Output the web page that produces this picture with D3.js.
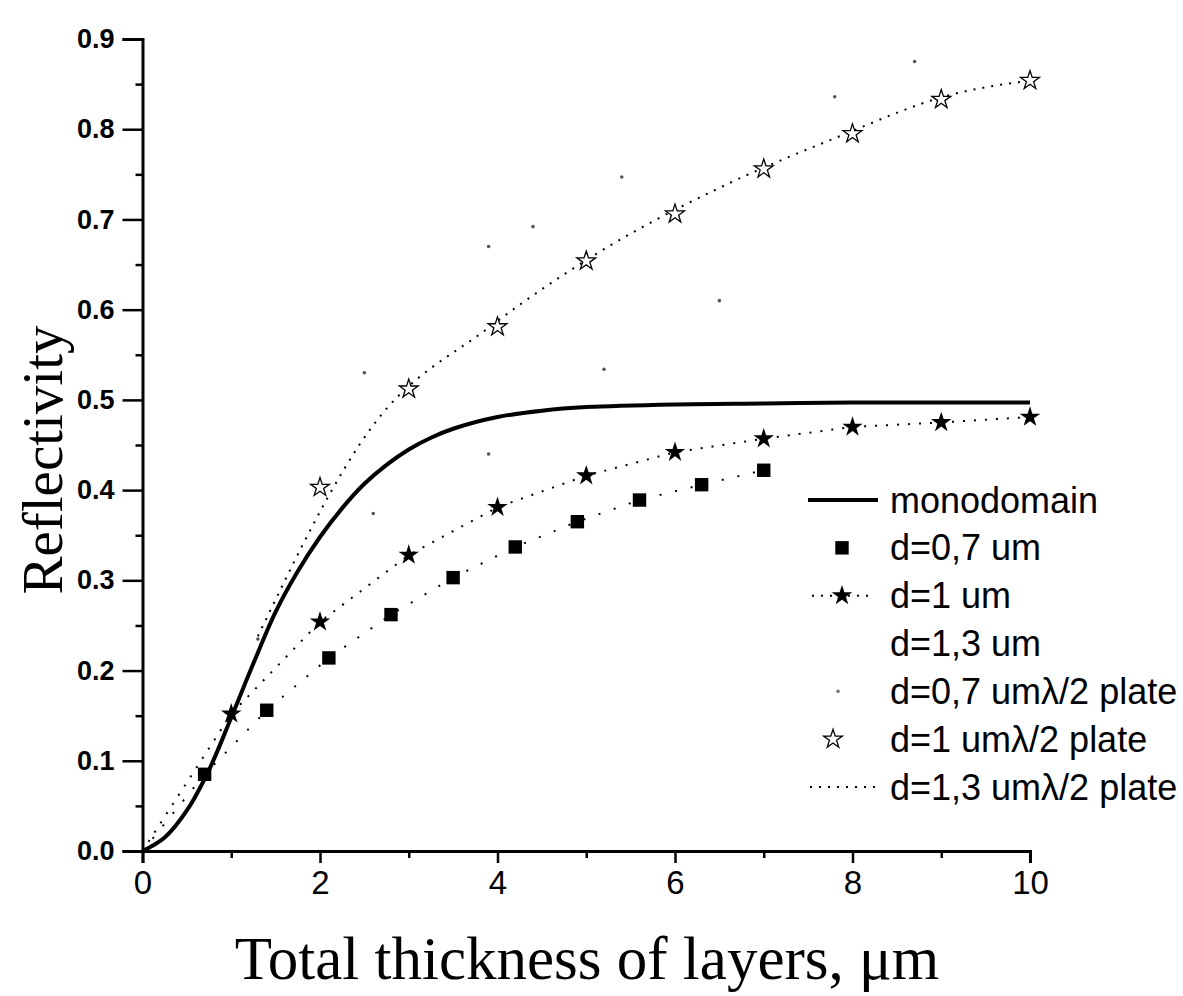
<!DOCTYPE html>
<html>
<head>
<meta charset="utf-8">
<script src="https://cdn.jsdelivr.net/npm/d3@7"></script>
<style>
  body { margin: 0; background: #fff; }
  svg { display: block; }
</style>
</head>
<body>
<div id="chart"></div>
<script>
!(function(){
    "use strict"

    var width = 1183;
    var height = 996;

    // monodomain (solid curve)
    var monoX = [0, 0.25, 0.5, 0.75, 1, 1.25, 1.5, 1.75, 2, 2.25, 2.5, 2.75, 3, 3.25, 3.5, 4, 4.5, 5, 6, 7, 8, 9, 10];
    var monoY = [0, 0.015, 0.045, 0.09, 0.148, 0.208, 0.265, 0.31, 0.348, 0.38, 0.407, 0.428, 0.445, 0.458, 0.468, 0.481, 0.488, 0.492, 0.495, 0.496, 0.497, 0.497, 0.497];

    // d=0,7 um (filled squares)
    var d07X = [0.7, 1.4, 2.1, 2.8, 3.5, 4.2, 4.9, 5.6, 6.3, 7.0];
    var d07Y = [0.085, 0.156, 0.214, 0.262, 0.303, 0.337, 0.365, 0.389, 0.406, 0.422];

    // d=1 um (filled stars)
    var d1X = [1, 2, 3, 4, 5, 6, 7, 8, 9, 10];
    var d1Y = [0.152, 0.254, 0.328, 0.381, 0.416, 0.442, 0.457, 0.47, 0.475, 0.481];

    // d=1,3 um (barely visible light marks)
    var d13X = [1.3, 2.6, 3.9, 5.2, 6.5];
    var d13Y = [0.235, 0.374, 0.44, 0.534, 0.61];

    // d=0,7 um lambda/2 plate (faint grey marks)
    var d07pX = [2.5, 3.9, 4.4, 5.4, 7.8, 8.7];
    var d07pY = [0.53, 0.67, 0.692, 0.747, 0.836, 0.875];

    // d=1 um lambda/2 plate (open stars)
    var d1pX = [2, 3, 4, 5, 6, 7, 8, 9, 10];
    var d1pY = [0.403, 0.512, 0.581, 0.654, 0.706, 0.756, 0.795, 0.833, 0.854];

    // d=1,3 um lambda/2 plate (dotted line)
    var d13pX = [1.3, 2.6, 3.9, 5.2, 6.5, 7.8, 9.1, 10];
    var d13pY = [0.238, 0.472, 0.58, 0.667, 0.735, 0.79, 0.838, 0.854];

    var xTicks = [0, 2, 4, 6, 8, 10];
    var xMinor = [1, 3, 5, 7, 9];
    var yTicks = [0, 0.1, 0.2, 0.3, 0.4, 0.5, 0.6, 0.7, 0.8, 0.9];
    var yMinor = [0.05, 0.15, 0.25, 0.35, 0.45, 0.55, 0.65, 0.75, 0.85];

    var legendLabels = ["monodomain", "d=0,7 um", "d=1 um", "d=1,3 um",
        "d=0,7 um\u03bb/2 plate", "d=1 um\u03bb/2 plate", "d=1,3 um\u03bb/2 plate"];

    function zip(xs, ys) {
        return xs.map(function(x, i){ return { x: x, y: ys[i] }; });
    }

    var left = 142.5, right = 1030, top = 39, bottom = 851;

    var x = d3.scaleLinear().domain([0, 10]).range([left, right]);
    var y = d3.scaleLinear().domain([0, 0.9]).range([bottom, top]);

    var svg = d3.select("#chart").append("svg")
        .attr("width", width)
        .attr("height", height);

    var sans = "'Liberation Sans', Arial, sans-serif";
    var narrow = "'Liberation Sans Narrow', 'Arial Narrow', 'Liberation Sans', sans-serif";
    var serif = "'Liberation Serif', 'Times New Roman', serif";

    // axes
    var yAxis = svg.append("g")
        .attr("transform", "translate(" + left + ",0)")
        .call(d3.axisLeft(y).tickValues(yTicks).tickFormat(d3.format(".1f")).tickSize(20).tickPadding(8));
    var yMinorAxis = svg.append("g")
        .attr("transform", "translate(" + left + ",0)")
        .call(d3.axisLeft(y).tickValues(yMinor).tickFormat("").tickSize(7));

    var xAxis = svg.append("g")
        .attr("transform", "translate(0," + bottom + ")")
        .call(d3.axisBottom(x).tickValues(xTicks).tickSize(12).tickPadding(8));
    var xMinorAxis = svg.append("g")
        .attr("transform", "translate(0," + bottom + ")")
        .call(d3.axisBottom(x).tickValues(xMinor).tickFormat("").tickSize(7));

    svg.selectAll(".domain").attr("stroke", "#000").attr("stroke-width", 3);
    svg.selectAll(".tick line").attr("stroke", "#000").attr("stroke-width", 2.5);
    yAxis.selectAll(".tick text").style("font-family", sans).style("font-size", "27px")
        .style("font-weight", "bold").attr("fill", "#000");
    xAxis.selectAll(".tick text").style("font-family", narrow).style("font-size", "33px")
        .attr("fill", "#000");
    yMinorAxis.select(".domain").remove();
    xMinorAxis.select(".domain").remove();

    // axis titles
    svg.append("text")
        .attr("x", 587)
        .attr("y", 979)
        .attr("text-anchor", "middle")
        .style("font-family", serif)
        .style("font-size", "61px")
        .text("Total thickness of layers, \u03bcm");

    svg.append("text")
        .attr("transform", "translate(62," + 460 + ") rotate(-90)")
        .attr("text-anchor", "middle")
        .style("font-family", serif)
        .style("font-size", "57px")
        .text("Reflectivity");

    var line = d3.line()
        .x(function(d){ return x(d.x); })
        .y(function(d){ return y(d.y); });

    var plot = svg.append("g");

    // faint grey series
    plot.selectAll(".d13").data(zip(d13X, d13Y)).enter()
        .append("circle")
        .attr("cx", function(d){ return x(d.x); })
        .attr("cy", function(d){ return y(d.y); })
        .attr("r", 1.8)
        .attr("fill", "#555");

    plot.selectAll(".d07p").data(zip(d07pX, d07pY)).enter()
        .append("circle")
        .attr("cx", function(d){ return x(d.x); })
        .attr("cy", function(d){ return y(d.y); })
        .attr("r", 1.8)
        .attr("fill", "#555");

    // dotted connecting lines
    plot.append("path")
        .datum(zip(d13pX, d13pY))
        .attr("d", line.curve(d3.curveMonotoneX))
        .attr("fill", "none")
        .attr("stroke", "#000")
        .attr("stroke-width", 2)
        .attr("stroke-dasharray", "2,7");

    plot.append("path")
        .datum([{x: 0, y: 0}].concat(zip(d07X, d07Y)))
        .attr("d", line.curve(d3.curveLinear))
        .attr("fill", "none")
        .attr("stroke", "#000")
        .attr("stroke-width", 2)
        .attr("stroke-dasharray", "2,14");

    plot.append("path")
        .datum([{x: 0, y: 0}].concat(zip(d1X, d1Y)))
        .attr("d", line.curve(d3.curveLinear))
        .attr("fill", "none")
        .attr("stroke", "#000")
        .attr("stroke-width", 2)
        .attr("stroke-dasharray", "2,9");

    // monodomain solid line
    plot.append("path")
        .datum(zip(monoX, monoY))
        .attr("d", line.curve(d3.curveCatmullRom))
        .attr("fill", "none")
        .attr("stroke", "#000")
        .attr("stroke-width", 4);

    var square = d3.symbol().type(d3.symbolSquare).size(180);
    var star = d3.symbol().type(d3.symbolStar).size(130);
    var openStar = d3.symbol().type(d3.symbolStar).size(110);

    plot.selectAll(".d07").data(zip(d07X, d07Y)).enter()
        .append("path")
        .attr("transform", function(d){ return "translate(" + x(d.x) + "," + y(d.y) + ")"; })
        .attr("d", square)
        .attr("fill", "#000");

    plot.selectAll(".d1").data(zip(d1X, d1Y)).enter()
        .append("path")
        .attr("transform", function(d){ return "translate(" + x(d.x) + "," + y(d.y) + ")"; })
        .attr("d", star)
        .attr("fill", "#000");

    plot.selectAll(".d1p").data(zip(d1pX, d1pY)).enter()
        .append("path")
        .attr("transform", function(d){ return "translate(" + x(d.x) + "," + y(d.y) + ")"; })
        .attr("d", openStar)
        .attr("fill", "#fff")
        .attr("stroke", "#000")
        .attr("stroke-width", 1.3);

    // legend
    var legend = svg.append("g");
    var rowY = d3.scalePoint().domain(legendLabels).range([500, 787]);
    var textX = 890;

    legend.selectAll("text").data(legendLabels).enter()
        .append("text")
        .attr("x", textX)
        .attr("y", function(d){ return rowY(d); })
        .attr("dy", "0.35em")
        .style("font-family", sans)
        .style("font-size", "36px")
        .text(function(d){ return d; });

    var ly = function(i){ return rowY(legendLabels[i]); };

    legend.append("line")
        .attr("x1", 808).attr("x2", 878)
        .attr("y1", ly(0)).attr("y2", ly(0))
        .attr("stroke", "#000").attr("stroke-width", 4);

    legend.append("path")
        .attr("transform", "translate(842," + ly(1) + ")")
        .attr("d", square).attr("fill", "#000");

    legend.append("line")
        .attr("x1", 812).attr("x2", 872)
        .attr("y1", ly(2)).attr("y2", ly(2))
        .attr("stroke", "#000").attr("stroke-width", 2)
        .attr("stroke-dasharray", "2,7");
    legend.append("path")
        .attr("transform", "translate(842," + ly(2) + ")")
        .attr("d", star).attr("fill", "#000");

    legend.append("circle")
        .attr("cx", 838).attr("cy", ly(4)).attr("r", 1.8).attr("fill", "#777");

    legend.append("path")
        .attr("transform", "translate(833," + ly(5) + ")")
        .attr("d", openStar).attr("fill", "#fff")
        .attr("stroke", "#000").attr("stroke-width", 1.3);

    legend.append("line")
        .attr("x1", 810).attr("x2", 882)
        .attr("y1", ly(6)).attr("y2", ly(6))
        .attr("stroke", "#000").attr("stroke-width", 2)
        .attr("stroke-dasharray", "2,7");

}());
</script>
</body>
</html>
